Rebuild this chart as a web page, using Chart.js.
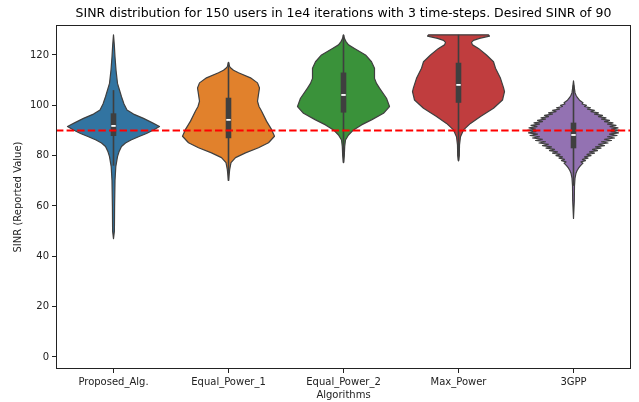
<!DOCTYPE html>
<html>
<head>
<meta charset="utf-8">
<script src="https://cdn.jsdelivr.net/npm/chart.js@4/dist/chart.umd.min.js"></script>
<style>
  html, body { margin: 0; padding: 0; background: #fff; }
  #wrap { width: 639px; height: 402px; }
</style>
</head>
<body>
<div id="wrap"><canvas id="c"></canvas></div>
<script>
// Algorithms compared
const categories = ['Proposed_Alg.', 'Equal_Power_1', 'Equal_Power_2', 'Max_Power', '3GPP'];
const fillColors = ['#3274a1', '#e1812c', '#3a923a', '#c03d3e', '#9372b2'];
const chartTitle = 'SINR distribution for 150 users in 1e4 iterations with 3 time-steps. Desired SINR of 90';
const targetSinr = 90;
const yTicks = [0, 20, 40, 60, 80, 100, 120];

// Kernel density profiles: SINR level -> density (arbitrary units,
// each violin is normalised to its own peak width)
const proposedLevels  = [47, 50, 60, 70, 75.6, 79.6, 81.5, 83.6, 85, 86.2, 87.5, 88.8, 90.2, 91.6, 93, 94.8, 96.5, 98.1, 100.5, 103.4, 108.7, 114, 119.3, 124, 128];
const proposedDensity = [0, 0.9, 1.1, 1.5, 2.3, 4, 5.5, 8, 12, 17.5, 25, 33, 40, 46, 39, 30, 20, 13.5, 10.5, 8, 4, 2.5, 1.5, 0.8, 0];

const equal1Levels  = [70.1, 74.5, 77.2, 79.2, 81.1, 83.1, 85.1, 87.7, 90.4, 93.7, 97.7, 99.5, 101.6, 104.3, 106.9, 108.9, 110.9, 112.9, 113.9, 114.9, 115.5, 117.1];
const equal1Density = [0, 1.2, 2.5, 7, 17, 30, 40, 46, 43, 38, 33, 30.5, 29, 30, 31, 29, 22, 10, 5, 2, 1, 0];

const equal2Levels  = [77.2, 80, 83.6, 86.2, 88.2, 90.2, 92.2, 94.2, 96.8, 99.5, 102.8, 106.8, 108.7, 110.7, 112.5, 114.7, 117.3, 120, 122.6, 124, 125.3, 126.5, 128];
const equal2Density = [0, 0.8, 1.2, 2, 5, 10, 18, 28, 40, 46, 43, 36, 33, 31, 31, 31, 28, 22, 11, 5, 2.5, 1, 0];

const maxPowerLevels  = [77.9, 80, 84.2, 87.5, 90.2, 92.8, 95.5, 98.8, 102.1, 105.4, 107, 110.7, 114.7, 117.3, 120, 122.6, 124, 125, 125.8, 126.6, 127.5, 128];
const maxPowerDensity = [0, 0.8, 1, 2, 5, 12, 22, 35, 44, 46, 45, 42, 37, 35, 28, 20, 14, 13, 15, 21, 31, 30];

const gppLevels  = [55, 62, 68, 71, 73, 74, 75, 76, 77, 77.5, 78, 78.5, 79, 79.5, 80, 80.5, 81, 81.5, 82, 82.5, 83, 83.5, 84, 84.5, 85, 85.5, 86, 86.5, 87, 87.5, 88, 88.5, 89, 89.5, 90, 90.5, 91, 91.5, 92, 92.5, 93, 93.5, 94, 94.5, 95, 95.5, 96, 96.5, 97, 97.5, 98, 98.5, 99, 99.5, 100, 100.5, 101, 102, 103, 104, 105, 107, 109.7];
const gppDensity = [0, 0.8, 1, 1.5, 2.5, 3.5, 5, 7, 9.5, 7.5, 12, 9, 14.5, 11, 17.5, 13.5, 21, 16, 24, 19, 27.5, 22, 31, 25, 34.5, 28, 38, 31, 41, 34, 43.5, 36, 45, 37.5, 46, 38, 44.5, 36.5, 42.5, 34, 39.5, 31, 36, 28, 32.5, 25, 29, 21, 25, 17.5, 21, 14, 17, 11, 13, 8.5, 9.5, 6, 4, 2.5, 1.5, 0.8, 0];

// Inner box: whiskers, quartiles and median per algorithm
const whiskerLow  = [76, 70, 77.2, 78, 68];
const boxQ1       = [87.8, 86.9, 97.1, 101, 82.9];
const boxMedian   = [91.8, 94.2, 104.1, 108.1, 88.2];
const boxQ3       = [96.8, 103, 113, 116.9, 93.1];
const whiskerHigh = [106, 117, 128, 128, 108];

const profiles = [
  [proposedLevels, proposedDensity],
  [equal1Levels, equal1Density],
  [equal2Levels, equal2Density],
  [maxPowerLevels, maxPowerDensity],
  [gppLevels, gppDensity]
];

const VIOLIN_HALF_WIDTH = 0.4;   // in category units
const INNER = '#3f3f3f';

const violinPlugin = {
  id: 'violins',
  beforeDatasetsDraw(chart) {
    const { ctx, scales: { x, y } } = chart;
    ctx.save();
    profiles.forEach(([levels, dens], i) => {
      const peak = Math.max(...dens);
      const cx = x.getPixelForValue(i);
      const half = x.getPixelForValue(i + VIOLIN_HALF_WIDTH) - cx;
      ctx.beginPath();
      levels.forEach((v, k) => {
        const px = cx + dens[k] / peak * half;
        const py = y.getPixelForValue(v);
        if (k === 0) ctx.moveTo(px, py); else ctx.lineTo(px, py);
      });
      for (let k = levels.length - 1; k >= 0; k--) {
        ctx.lineTo(cx - dens[k] / peak * half, y.getPixelForValue(levels[k]));
      }
      ctx.closePath();
      ctx.fillStyle = fillColors[i];
      ctx.fill();
      ctx.lineWidth = 1.2;
      ctx.strokeStyle = INNER;
      ctx.lineJoin = 'round';
      ctx.stroke();

      // whiskers
      ctx.beginPath();
      ctx.moveTo(cx, y.getPixelForValue(whiskerLow[i]));
      ctx.lineTo(cx, y.getPixelForValue(whiskerHigh[i]));
      ctx.lineWidth = 1.6;
      ctx.strokeStyle = INNER;
      ctx.stroke();

      // interquartile box
      const top = y.getPixelForValue(boxQ3[i]);
      const bot = y.getPixelForValue(boxQ1[i]);
      ctx.fillStyle = INNER;
      ctx.fillRect(cx - 2.8, top, 5.6, bot - top);

      // median
      const my = y.getPixelForValue(boxMedian[i]);
      ctx.fillStyle = '#ffffff';
      ctx.fillRect(cx - 2.2, my - 0.9, 4.4, 1.8);
    });
    ctx.restore();
  },
  afterDraw(chart) {
    const { ctx, chartArea: a } = chart;
    ctx.save();
    // axes frame
    ctx.strokeStyle = '#222';
    ctx.lineWidth = 1;
    ctx.strokeRect(Math.round(a.left) + 0.5, Math.round(a.top) + 0.5,
                   Math.round(a.right - a.left) - 1, Math.round(a.bottom - a.top) - 1);
    // title centred over the plotting area
    ctx.fillStyle = '#000';
    ctx.font = "12.5px 'DejaVu Sans', sans-serif";
    ctx.textAlign = 'center';
    ctx.textBaseline = 'middle';
    ctx.fillText(chartTitle, (a.left + a.right) / 2, 14);
    ctx.restore();
  }
};

Chart.defaults.font.family = "'DejaVu Sans', sans-serif";
Chart.defaults.color = '#222';

new Chart(document.getElementById('c'), {
  type: 'line',
  data: {
    datasets: [{
      label: 'Desired SINR',
      data: [{ x: -0.5, y: targetSinr }, { x: categories.length - 0.5, y: targetSinr }],
      borderColor: '#ff0000',
      borderWidth: 2,
      borderDash: [7.4, 3.2],
      pointRadius: 0,
      fill: false
    }]
  },
  options: {
    responsive: true,
    maintainAspectRatio: false,
    animation: false,
    layout: { padding: { left: 0, right: 8, top: 25, bottom: 0 } },
    plugins: {
      legend: { display: false },
      tooltip: { enabled: false },
      title: { display: false }
    },
    scales: {
      x: {
        type: 'linear',
        min: -0.5,
        max: categories.length - 0.5,
        afterBuildTicks: s => { s.ticks = categories.map((_, i) => ({ value: i })); },
        afterFit: s => { s.height = 33; },
        ticks: {
          autoSkip: false, maxRotation: 0, padding: 3,
          font: { size: 10 }, color: '#222',
          callback: v => categories[v]
        },
        grid: { display: true, drawOnChartArea: false, drawTicks: true, tickLength: 4, tickColor: '#222' },
        border: { display: false },
        title: { display: true, text: 'Algorithms', font: { size: 10 }, color: '#222', padding: { top: 0, bottom: 1 } }
      },
      y: {
        type: 'linear',
        min: -4.8,
        max: 131.9,
        afterBuildTicks: s => { s.ticks = yTicks.map(v => ({ value: v })); },
        afterFit: s => { s.width = 56; },
        ticks: { padding: 3, font: { size: 10 }, color: '#222' },
        grid: { display: true, drawOnChartArea: false, drawTicks: true, tickLength: 4, tickColor: '#222' },
        border: { display: false },
        title: { display: true, text: 'SINR (Reported Value)', font: { size: 10 }, color: '#222', padding: { top: 12, bottom: 0 } }
      }
    }
  },
  plugins: [violinPlugin]
});
</script>
</body>
</html>
